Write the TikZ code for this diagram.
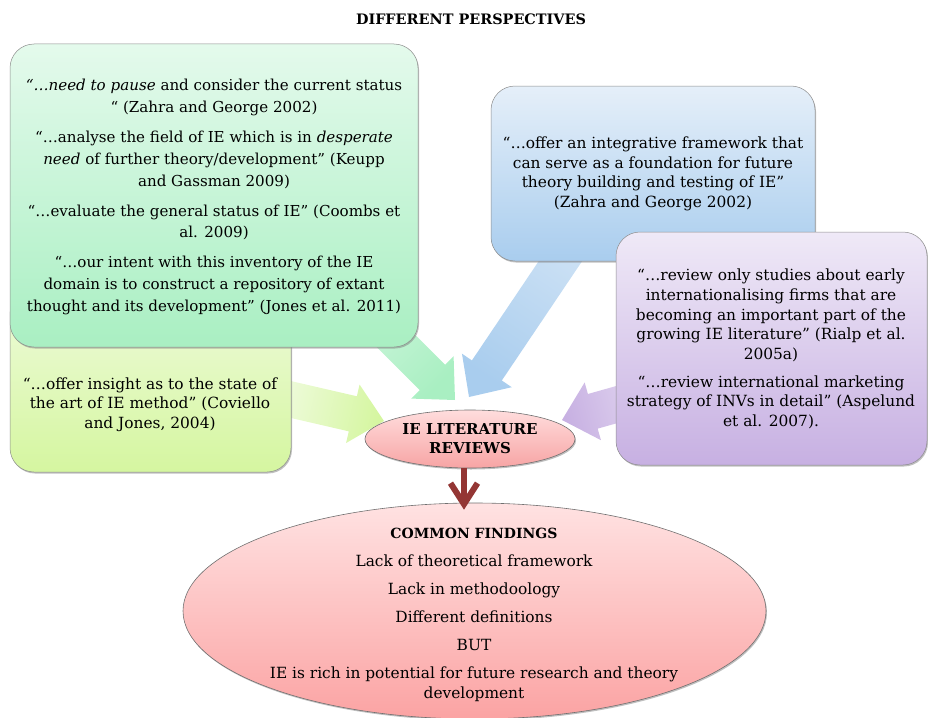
\documentclass[tikz,border=0pt]{standalone}
\usepackage{fontspec}
\setmainfont{DejaVu Serif}
\usetikzlibrary{calc,shapes.geometric,shadows,arrows.meta}

\definecolor{boxline}{RGB}{140,140,140}
\definecolor{arrowred}{RGB}{148,54,52}
\definecolor{greentop}{RGB}{228,250,236}
\definecolor{greenbot}{RGB}{169,239,194}
\definecolor{yeltop}{RGB}{238,251,219}
\definecolor{yelbot}{RGB}{213,246,160}
\definecolor{bluetop}{RGB}{229,239,249}
\definecolor{bluebot}{RGB}{169,205,238}
\definecolor{purtop}{RGB}{239,233,247}
\definecolor{purbot}{RGB}{199,176,226}
\definecolor{pinktop}{RGB}{255,221,221}
\definecolor{pinkbot}{RGB}{247,164,164}
\definecolor{bigtop}{RGB}{255,226,226}
\definecolor{bigbot}{RGB}{251,163,163}

% wide block arrow from tail #1 to tip #2, filled with style #3
\newcommand\blockarrow[3]{%
  \coordinate (ba-base) at ($(#2)!32pt!(#1)$);
  \path[#3]
    ($(#1)!18pt!90:(#2)$) -- ($(ba-base)!18pt!90:(#2)$) -- ($(ba-base)!30pt!90:(#2)$)
    -- (#2) -- ($(ba-base)!30pt!-90:(#2)$) -- ($(ba-base)!18pt!-90:(#2)$)
    -- ($(#1)!18pt!-90:(#2)$) -- cycle;
}

\tikzset{
  card/.style={draw=boxline, line width=0.5pt, rounded corners=24pt, inner sep=0pt,
    drop shadow={shadow xshift=1pt, shadow yshift=-1.5pt, opacity=0.5}},
  oval/.style={ellipse, draw=boxline!80!black, line width=0.6pt, inner sep=0pt,
    drop shadow={shadow xshift=1pt, shadow yshift=-1.5pt, opacity=0.5}},
  quotetext/.style={align=center, inner sep=0pt, font=\fontsize{15.4pt}{19.7pt}\selectfont},
  downarrow/.style={draw=arrowred, line width=6pt, -{Straight Barb[length=21pt,width=27pt]}}
}

\begin{document}
\begin{tikzpicture}[x=1pt,y=-1pt]
\useasboundingbox (0,0) rectangle (928,717);
\clip (0,0) rectangle (928,717);

% ends of the wide arrows
\coordinate (ytail) at (280,397);
\coordinate (ytip) at (384,421);
\coordinate (gtail) at (360,305);
\coordinate (gtip) at (455,400);
\coordinate (btail) at (578,235);
\coordinate (btip) at (469,397);
\coordinate (ptail) at (640,398);
\coordinate (ptip) at (562,420);

\blockarrow{ytail}{ytip}{top color=yelbot, bottom color=yeltop, shading angle=-103}
\blockarrow{gtail}{gtip}{top color=greenbot, bottom color=greentop!60!greenbot, shading angle=-135}
\blockarrow{btail}{btip}{top color=bluebot, bottom color=bluetop!60!bluebot, shading angle=146}
\blockarrow{ptail}{ptip}{top color=purbot, bottom color=purtop!60!purbot, shading angle=106}

% quotation boxes
\node[card, minimum width=281pt, minimum height=182pt, top color=yeltop, bottom color=yelbot] (ybox) at (150.5,381) {};
\node[card, minimum width=408pt, minimum height=303pt, top color=greentop, bottom color=greenbot] (gbox) at (214,195.5) {};
\node[card, minimum width=324pt, minimum height=175pt, top color=bluetop, bottom color=bluebot] (bbox) at (653,173.5) {};
\node[card, minimum width=311pt, minimum height=233pt, top color=purtop, bottom color=purbot] (pbox) at (771.5,348.5) {};

% ellipses
\node[oval, minimum width=210pt, minimum height=58pt, top color=pinktop, bottom color=pinkbot] (rev) at (470,439) {};
\node[oval, minimum width=583pt, minimum height=216pt, top color=bigtop, bottom color=bigbot] (find) at (474.5,611) {};

\draw[downarrow, shorten >=-7pt] ([xshift=-6pt]rev.south) -- ([xshift=-10.5pt]find.north);

% texts
\node[font=\bfseries\fontsize{14.4pt}{17pt}\selectfont, inner sep=0pt] (title) at (471,19) {DIFFERENT PERSPECTIVES};

\node[quotetext, font=\fontsize{15.1pt}{21.7pt}\selectfont] (gtext) at (214,197)
  {\textit{“…need to pause} and consider the current status\\
   “ (Zahra and George 2002)\\[8.3pt]
   “…analyse the field of IE which is in \textit{desperate}\\
   \textit{need} of further theory/development” (Keupp\\
   and Gassman 2009)\\[8.3pt]
   “…evaluate the general status of IE” (Coombs et\\
   al. 2009)\\[8.3pt]
   “…our intent with this inventory of the IE\\
   domain is to construct a repository of extant\\
   thought and its development” (Jones et al. 2011)};

\node[quotetext] (ytext) at (150,404.5)
  {“…offer insight as to the state of\\
   the art of IE method” (Coviello\\
   and Jones, 2004)};

\node[quotetext] (btext) at (653,174)
  {“…offer an integrative framework that\\
   can serve as a foundation for future\\
   theory building and testing of IE”\\
   (Zahra and George 2002)};

\node[quotetext] (ptext) at (771,349)
  {“…review only studies about early\\
   internationalising firms that are\\
   becoming an important part of the\\
   growing IE literature” (Rialp et al.\\
   2005a)\\[7.7pt]
   “…review international marketing\\
   strategy of INVs in detail” (Aspelund\\
   et al. 2007).};

\node[quotetext, font=\bfseries\fontsize{15pt}{19pt}\selectfont] (rtext) at (470,439)
  {IE LITERATURE\\ REVIEWS};

\node[quotetext, font=\fontsize{15.4pt}{19.3pt}\selectfont] (ftext) at (474,615)
  {{\bfseries\fontsize{14pt}{19.3pt}\selectfont COMMON FINDINGS}\\[8.7pt]
   Lack of theoretical framework\\[8.7pt]
   Lack in methodoology\\[8.7pt]
   Different definitions\\[8.7pt]
   BUT\\[8.7pt]
   IE is rich in potential for future research and theory\\
   development};
\end{tikzpicture}
\end{document}
